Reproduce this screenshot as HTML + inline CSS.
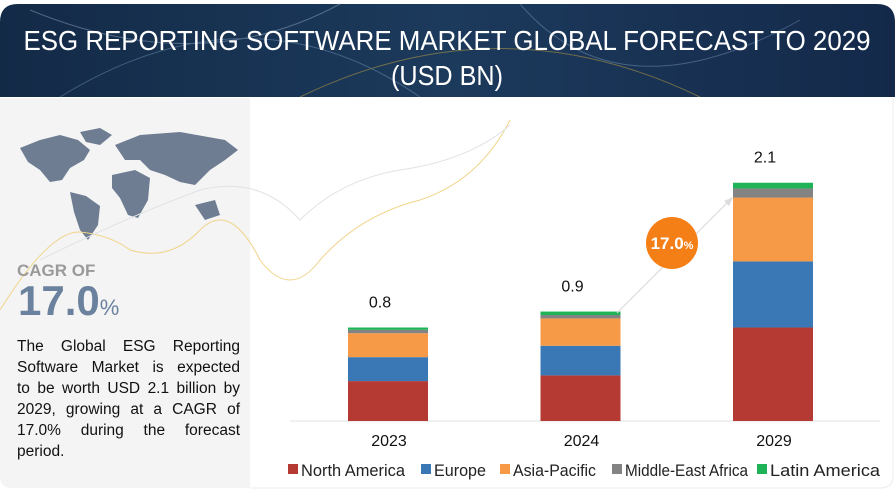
<!DOCTYPE html>
<html><head><meta charset="utf-8"><style>
body{margin:0;width:895px;height:490px;overflow:hidden;background:#fff;font-family:"Liberation Sans",sans-serif;position:relative}
#summary{position:absolute;left:17px;top:336px;width:223px;font-size:15.5px;line-height:21px;color:#111}
#summary div{text-align:justify;text-align-last:justify;white-space:nowrap}
#summary div.last{text-align-last:left}
</style></head><body>
<svg width="895" height="490" viewBox="0 0 895 490" style="position:absolute;left:0;top:0">
<defs>
<linearGradient id="hdr" x1="0" x2="1" y1="0" y2="0"><stop offset="0" stop-color="#132a47"/><stop offset="0.5" stop-color="#1c3a5c"/><stop offset="1" stop-color="#14294a"/></linearGradient>
</defs>
<rect x="0" y="0" width="895" height="490" fill="#fff"/>
<path d="M0,22 Q0,4 18,4 L877,4 Q895,4 895,22 L895,97 L0,97 Z" fill="url(#hdr)"/>
<g fill="none" stroke-width="1" opacity="0.5">
<path d="M60,97 Q250,-20 420,97" stroke="#6f8fb0"/>
<path d="M300,97 Q500,0 700,97" stroke="#c9a640"/>
<path d="M520,4 Q620,120 800,20" stroke="#6f8fb0"/>
<path d="M30,10 Q200,80 340,4" stroke="#8aa0b8"/>
</g>
<text x="447" y="50" text-anchor="middle" fill="#fff" font-size="28" textLength="847" lengthAdjust="spacingAndGlyphs">ESG REPORTING SOFTWARE MARKET GLOBAL FORECAST TO 2029</text>
<text x="447" y="85" text-anchor="middle" fill="#fff" font-size="28" transform="translate(447 0) scale(0.9 1) translate(-447 0)">(USD BN)</text>
<path d="M0,98 L250,98 L250,488 L12,488 Q0,488 0,476 Z" fill="#f4f4f5"/>
<g fill="#6e7d91">
<path d="M20,148 L40,140 L60,135 L78,140 L90,150 L84,160 L70,168 L62,180 L50,182 L40,170 L28,162 Z"/>
<path d="M80,132 L100,128 L112,135 L100,145 L86,142 Z"/>
<path d="M70,192 L86,196 L100,206 L98,225 L88,240 L80,230 L74,212 Z"/>
<path d="M115,145 L140,135 L180,132 L225,140 L238,150 L225,160 L210,170 L195,185 L180,182 L165,175 L150,170 L140,160 L125,160 Z"/>
<path d="M112,175 L135,170 L150,178 L148,200 L138,218 L128,215 L120,198 L112,188 Z"/>
<path d="M195,205 L215,200 L220,215 L205,220 Z"/>
</g>
<g fill="none" stroke-width="1">
<path d="M0,310 Q50,230 80,232 Q110,235 130,250 Q170,262 200,230 Q230,200 260,260 Q290,300 320,260 Q360,215 420,200 Q480,180 510,120" stroke="#f0d48a"/>
<path d="M40,260 Q120,220 200,190 Q260,175 300,220 Q340,180 400,170 Q470,160 510,125" stroke="#dfe2e6"/>
</g>
<text x="17" y="276" fill="#9a9a9a" font-size="17" font-weight="bold">CAGR OF</text>
<text x="18" y="315" fill="#6b829e" font-size="42" font-weight="bold">17.0<tspan font-size="22" font-weight="normal">%</tspan></text>
<line x1="290" y1="421" x2="880" y2="421" stroke="#e2e2e2"/>
<g id="bars"></g>
<line x1="617" y1="313" x2="730" y2="200" stroke="#dcdcdc" stroke-width="1.2"/>
<path d="M733,197 L724,201 L729,206 Z" fill="#dcdcdc"/>
<circle cx="672" cy="243" r="26" fill="#f57f17"/>
<text x="672" y="249" text-anchor="middle" fill="#fff" font-size="17" font-weight="bold">17.0<tspan font-size="11">%</tspan></text>
<g id="legend" font-size="16.5" fill="#222"></g>
<path d="M250,488 L880,488 Q893,488 893,476 L893,98" fill="none" stroke="#ececec"/>
</svg>
<div id="summary">
<div>The Global ESG Reporting</div>
<div>Software Market is expected</div>
<div>to be worth USD 2.1 billion by</div>
<div>2029, growing at a CAGR of</div>
<div>17.0% during the forecast</div>
<div class="last">period.</div>
</div>
<script>
const categories=["2023","2024","2029"];
const totals=["0.8","0.9","2.1"];
const seriesNames=["North America","Europe","Asia-Pacific","Middle-East Africa","Latin America"];
const northAmerica=[0.35,0.40,0.82];
const europe=[0.21,0.26,0.58];
const asiaPacific=[0.21,0.24,0.56];
const middleEastAfrica=[0.03,0.03,0.08];
const latinAmerica=[0.02,0.03,0.05];
const colors=["#b53a33","#3a78b5","#f79a48","#838383","#1db356"];
const series=[northAmerica,europe,asiaPacific,middleEastAfrica,latinAmerica];
const NS="http://www.w3.org/2000/svg";
const base=421, pxPerUnit=114, bw=80;
function y(v){return base-v*pxPerUnit;}
function xc(i){return 388+i*192.5;}
const g=document.getElementById('bars');
categories.forEach((c,i)=>{
  let acc=0;
  series.forEach((s,k)=>{
    const r=document.createElementNS(NS,'rect');
    r.setAttribute('x',xc(i)-bw/2);
    r.setAttribute('y',y(acc+s[i]));
    r.setAttribute('width',bw);
    r.setAttribute('height',s[i]*pxPerUnit);
    r.setAttribute('fill',colors[k]);
    
    
    g.appendChild(r);
    acc+=s[i];
  });
  const t=document.createElementNS(NS,'text');
  t.setAttribute('x',xc(i)-8);t.setAttribute('y',y(acc)-20);
  t.setAttribute('text-anchor','middle');t.setAttribute('font-size','16');t.setAttribute('fill','#111');
  t.textContent=totals[i];
  
  
  g.appendChild(t);
  const l=document.createElementNS(NS,'text');
  l.setAttribute('x',xc(i)+1);l.setAttribute('y',446);
  l.setAttribute('text-anchor','middle');l.setAttribute('font-size','16');l.setAttribute('fill','#111');
  l.textContent=c;
  
  
  g.appendChild(l);
});
const lg=document.getElementById('legend');
const lx=[288,421,500,612,757];
const lend=[405,486,596,748,880];
seriesNames.forEach((n,k)=>{
  const e=document.createElementNS(NS,'g');
  
  
  const r=document.createElementNS(NS,'rect');
  r.setAttribute('x',lx[k]);r.setAttribute('y',464);r.setAttribute('width',10);r.setAttribute('height',10);r.setAttribute('fill',colors[k]);
  const t=document.createElementNS(NS,'text');
  t.setAttribute('x',lx[k]+13);t.setAttribute('y',476);t.textContent=n;
  t.setAttribute('textLength',lend[k]-lx[k]-13);
  t.setAttribute('lengthAdjust','spacingAndGlyphs');
  e.appendChild(r);e.appendChild(t);lg.appendChild(e);
});
</script>
</body></html>
